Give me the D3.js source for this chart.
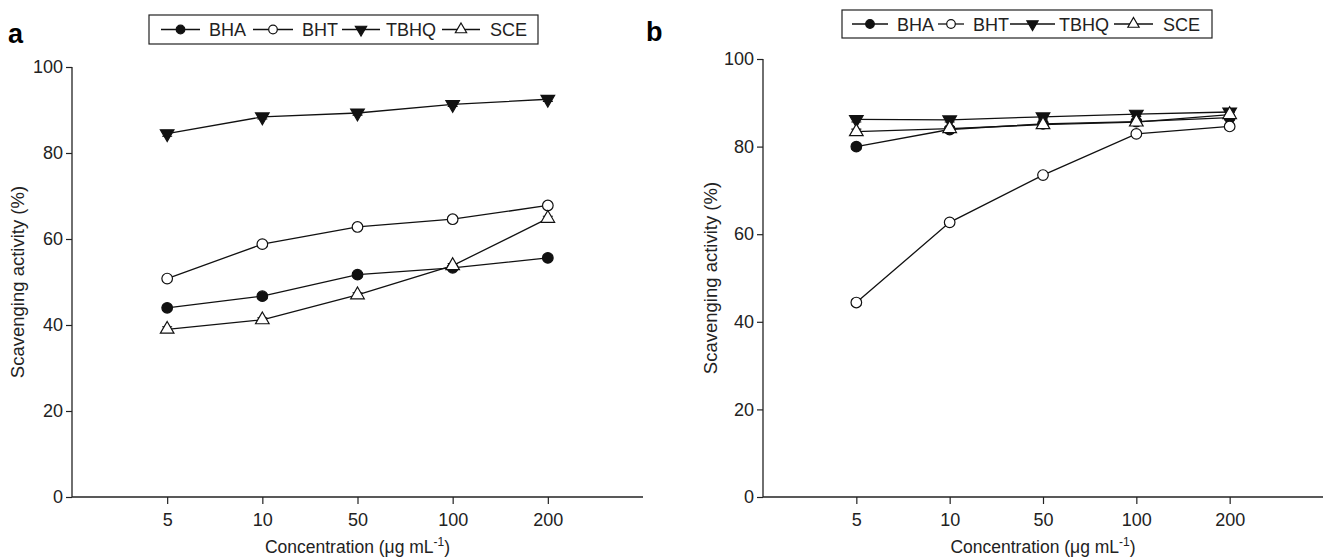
<!DOCTYPE html>
<html>
<head>
<meta charset="utf-8">
<script src="https://cdn.jsdelivr.net/npm/d3@7/dist/d3.min.js"></script>
<style>
  body { margin: 0; background: #fff; }
  svg { display: block; font-family: "Liberation Sans", Arial, sans-serif; }
</style>
</head>
<body>
<svg id="chart" width="1328" height="558"></svg>
<script>
// concentrations (categorical, evenly spaced)
const concentrations = ['5', '10', '50', '100', '200'];
const yTicks = [0, 20, 40, 60, 80, 100];
const seriesNames = ['BHA', 'BHT', 'TBHQ', 'SCE'];

// panel a values (%)
const aBHA = [44.0, 46.7, 51.7, 53.3, 55.6];
const aBHT = [50.8, 58.8, 62.8, 64.6, 67.8];
const aTBHQ = [84.5, 88.4, 89.3, 91.3, 92.5];
const aSCE = [39.0, 41.2, 47.0, 53.8, 64.8];

// panel b values (%)
const bBHA = [80.0, 83.9, 85.2, 85.7, 86.6];
const bBHT = [44.4, 62.7, 73.5, 82.9, 84.6];
const bTBHQ = [86.2, 86.1, 86.8, 87.4, 87.9];
const bSCE = [83.4, 84.1, 85.0, 85.6, 87.3];

// small error bars (% , approx.)
const errSmall = [0.6, 0.5, 0.5, 0.5, 0.5];

const svg = d3.select('#chart');

function drawPanel(opts) {
  const g = svg.append('g');
  const x = d3.scaleLinear().domain([0, concentrations.length + 1]).range([opts.left, opts.right]);
  const y = d3.scaleLinear().domain([0, 100]).range([opts.bottom, opts.top]);

  // y axis
  const yAxis = g.append('g')
    .attr('transform', `translate(${opts.left},0)`)
    .call(d3.axisLeft(y).tickValues(yTicks).tickSize(6).tickPadding(3));
  // x axis
  const xAxis = g.append('g')
    .attr('transform', `translate(0,${opts.bottom})`)
    .call(d3.axisBottom(x).tickValues(concentrations.map((c, i) => i + 1))
      .tickFormat((d, i) => concentrations[i]).tickSize(7).tickPadding(9));
  [yAxis, xAxis].forEach(ax => {
    ax.select('.domain').attr('stroke', '#222').attr('stroke-width', 1.3);
    ax.selectAll('.tick line').attr('stroke', '#222').attr('stroke-width', 1.2);
    ax.selectAll('.tick text').attr('fill', '#222').style('font-size', '18px');
  });
  xAxis.select('.domain').attr('d', `M${opts.left},0H${opts.right}`);
  yAxis.select('.domain').attr('d', `M0,${opts.bottom}V${opts.top}`);

  // axis titles
  const xt = g.append('text')
    .attr('x', (x(1) + x(5)) / 2)
    .attr('y', opts.bottom + 56)
    .attr('text-anchor', 'middle')
    .attr('fill', '#222')
    .style('font-size', '17.5px')
    .text('Concentration (μg mL');
  xt.append('tspan').attr('dy', -7).style('font-size', '12px').text('-1');
  xt.append('tspan').attr('dy', 7).text(')');

  g.append('text')
    .attr('transform', `translate(${opts.titleX},${(opts.top + opts.bottom) / 2}) rotate(-90)`)
    .attr('text-anchor', 'middle')
    .attr('fill', '#222')
    .style('font-size', '18.5px')
    .text('Scavenging activity (%)');

  // panel letter
  g.append('text')
    .attr('x', opts.letterX).attr('y', opts.letterY)
    .style('font-size', '27px').style('font-weight', 'bold')
    .text(opts.letter);

  const series = [
    { name: 'BHA', values: opts.data[0], shape: 'circle', fill: '#111' },
    { name: 'BHT', values: opts.data[1], shape: 'circle', fill: '#fff' },
    { name: 'TBHQ', values: opts.data[2], shape: 'down', fill: '#111' },
    { name: 'SCE', values: opts.data[3], shape: 'up', fill: '#fff' }
  ];

  const line = d3.line().x((d, i) => x(i + 1)).y(d => y(d));

  series.forEach(s => {
    const sg = g.append('g');
    sg.append('path')
      .datum(s.values)
      .attr('d', line)
      .attr('fill', 'none')
      .attr('stroke', '#111')
      .attr('stroke-width', 1.3);
    // error caps
    sg.selectAll('.err')
      .data(s.values)
      .enter()
      .append('path')
      .attr('d', (d, i) => {
        const cx = x(i + 1);
        const e = errSmall[i];
        return `M${cx - 5},${y(d + e)}H${cx + 5}M${cx - 5},${y(d - e)}H${cx + 5}M${cx},${y(d + e)}V${y(d - e)}`;
      })
      .attr('stroke', '#111')
      .attr('stroke-width', 1.1)
      .attr('fill', 'none');
    drawMarkers(sg, s, s.values.map((d, i) => [x(i + 1), y(d)]), 5.3, 80);
  });

  // legend
  const lg = g.append('g');
  lg.append('rect')
    .attr('x', opts.legend.x).attr('y', opts.legend.y)
    .attr('width', opts.legend.w).attr('height', opts.legend.h)
    .attr('fill', '#fff').attr('stroke', '#222').attr('stroke-width', 1.2);
  const cy = opts.legend.y + opts.legend.h / 2;
  opts.legend.items.forEach((it, k) => {
    const s = series[k];
    lg.append('line')
      .attr('x1', it[0]).attr('x2', it[1]).attr('y1', cy).attr('y2', cy)
      .attr('stroke', '#111').attr('stroke-width', 1.3);
    drawMarkers(lg, s, [[(it[0] + it[1]) / 2, cy]], 4.3, 55);
    lg.append('text')
      .attr('x', it[2]).attr('y', cy + 6.5)
      .attr('fill', '#222')
      .style('font-size', '18px')
      .text(s.name);
  });
}

function drawMarkers(sel, s, pts, r, triSize) {
  if (s.shape === 'circle') {
    sel.selectAll(null).data(pts).enter().append('circle')
      .attr('cx', p => p[0]).attr('cy', p => p[1]).attr('r', r)
      .attr('fill', s.fill).attr('stroke', '#111').attr('stroke-width', 1.2);
  } else {
    const sym = d3.symbol().type(d3.symbolTriangle).size(triSize);
    sel.selectAll(null).data(pts).enter().append('path')
      .attr('d', sym)
      .attr('transform', p => `translate(${p[0]},${p[1]})${s.shape === 'down' ? ' rotate(180)' : ''}`)
      .attr('fill', s.fill).attr('stroke', '#111').attr('stroke-width', 1.2);
  }
}

drawPanel({
  left: 72, right: 643, top: 67, bottom: 497, titleX: 24,
  letter: 'a', letterX: 8, letterY: 43,
  data: [aBHA, aBHT, aTBHQ, aSCE],
  legend: {
    x: 149, y: 15, w: 389, h: 29,
    items: [[161, 200, 209], [253, 293, 302], [342, 380, 386], [442, 480, 490]]
  }
});

drawPanel({
  left: 763, right: 1323, top: 59, bottom: 497, titleX: 717,
  letter: 'b', letterX: 646, letterY: 41,
  data: [bBHA, bBHT, bTBHQ, bSCE],
  legend: {
    x: 842, y: 10, w: 370, h: 28,
    items: [[852, 888, 897], [938, 964, 973], [1010, 1055, 1059], [1114, 1153, 1163]]
  }
});
</script>
</body>
</html>
